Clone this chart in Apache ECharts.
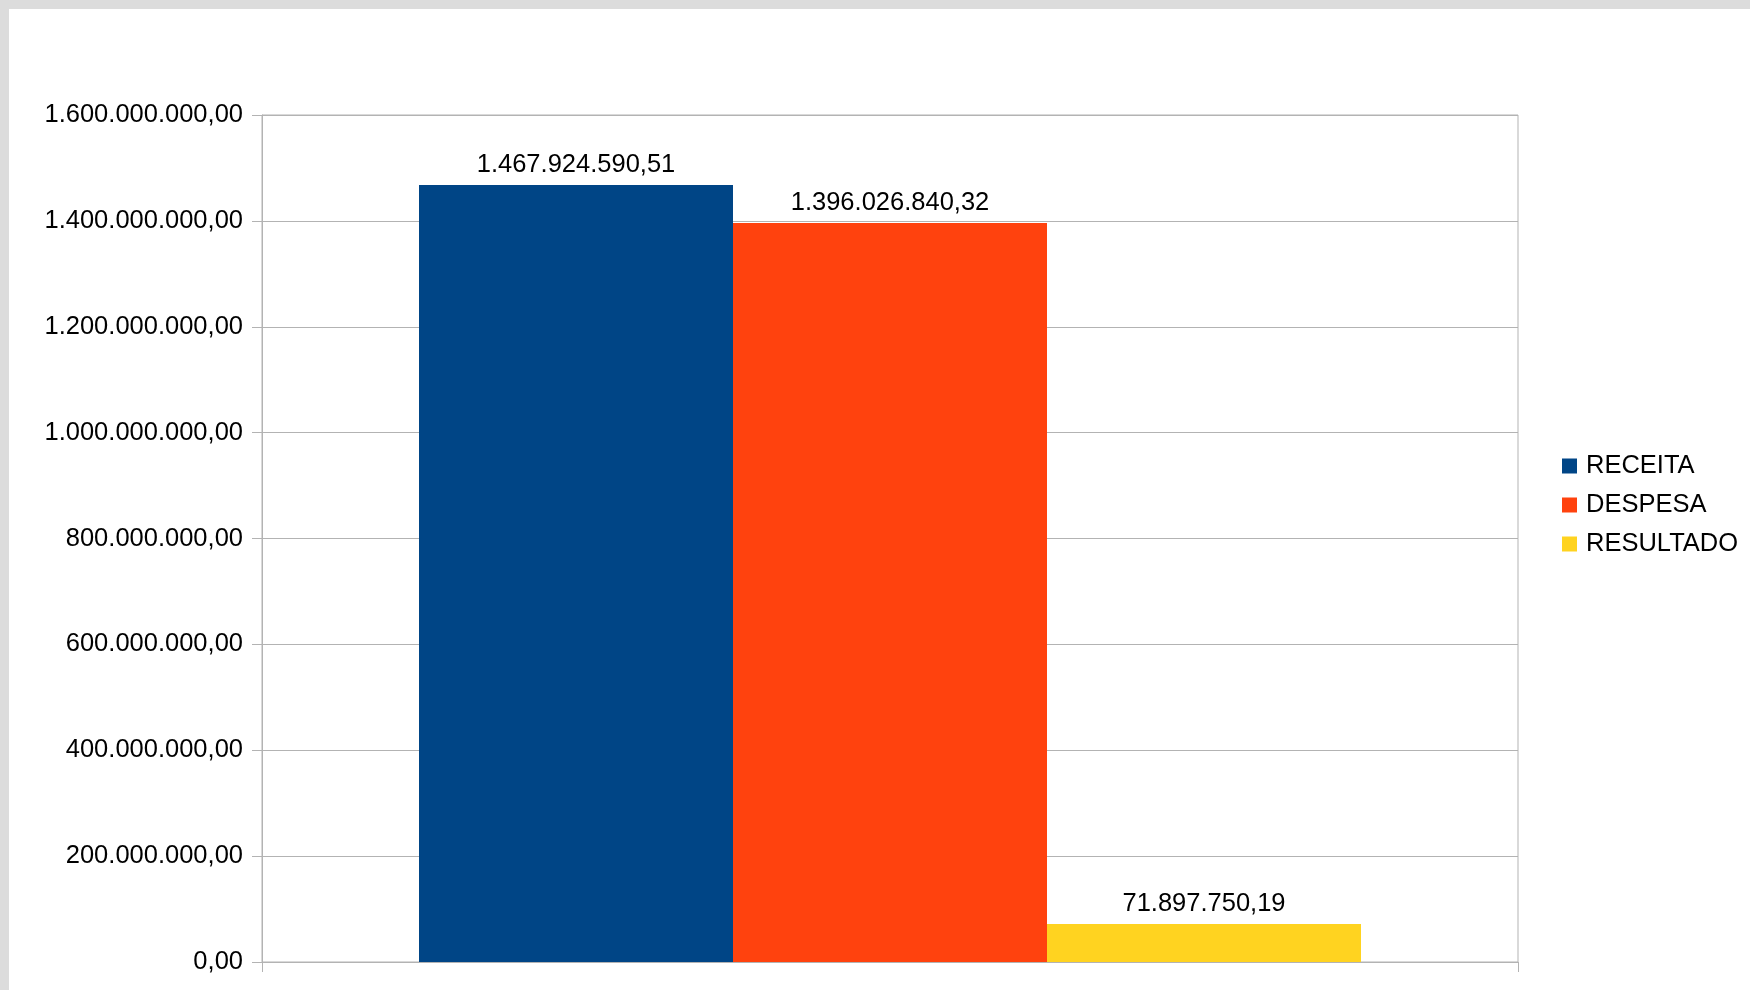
<!DOCTYPE html>
<html>
<head>
<meta charset="utf-8">
<script src="https://cdn.jsdelivr.net/npm/echarts@6/dist/echarts.min.js"></script>
<style>
html,body{margin:0;padding:0;background:#dcdcdc;width:1750px;height:990px;overflow:hidden;}
#c{position:absolute;left:9px;top:9px;width:1741px;height:981px;background:#ffffff;}
</style>
</head>
<body>
<div id="c"></div>
<script>
const categories = [''];
const seriesNames = ['RECEITA', 'DESPESA', 'RESULTADO'];
const receita = [1467924590.51];
const despesa = [1396026840.32];
const resultado = [71897750.19];
const colors = ['#004586', '#ff420e', '#ffd320'];

function fmt(v) {
  const neg = v < 0;
  const s = Math.abs(v).toFixed(2);
  let [ip, dp] = s.split('.');
  ip = ip.replace(/\B(?=(\d{3})+(?!\d))/g, '.');
  return (neg ? '-' : '') + ip + ',' + dp;
}

const chart = echarts.init(document.getElementById('c'));
const font = 'Liberation Sans, Arial, sans-serif';
const values = [receita, despesa, resultado];
chart.setOption({
  animation: false,
  textStyle: { fontFamily: font },
  grid: { left: 253, top: 106, width: 1256, height: 847, show: true, borderColor: '#b3b3b3', borderWidth: 1 },
  legend: {
    orient: 'vertical', left: 1548, top: 439,
    itemWidth: 15, itemHeight: 15, itemGap: 13,
    icon: 'rect',
    textStyle: { fontSize: 25.5, color: '#000', fontFamily: font, padding: [0, 0, 0, 4] },
    data: seriesNames
  },
  xAxis: {
    type: 'category', data: categories,
    axisLine: { show: true, lineStyle: { color: '#b3b3b3', width: 1 } },
    axisTick: { show: true, length: 10, lineStyle: { color: '#b3b3b3' } },
    axisLabel: { show: false },
    splitLine: { show: false }
  },
  yAxis: {
    type: 'value', min: 0, max: 1600000000, interval: 200000000,
    axisLine: { show: true, lineStyle: { color: '#b3b3b3' } },
    axisTick: { show: true, length: 10, lineStyle: { color: '#b3b3b3' } },
    axisLabel: { fontSize: 25.5, color: '#000', margin: 19, fontFamily: font, padding: [2, 0, 0, 0], formatter: v => fmt(v) },
    splitLine: { show: true, lineStyle: { color: '#b3b3b3', width: 1 } }
  },
  series: seriesNames.map((n, i) => ({
    name: n, type: 'bar', data: values[i],
    barGap: '0%', barCategoryGap: '25%',
    itemStyle: { color: colors[i] },
    label: { show: true, position: 'top', distance: 7, fontSize: 25.5, color: '#000', fontFamily: font, formatter: p => fmt(p.value) }
  }))
});
</script>
</body>
</html>
